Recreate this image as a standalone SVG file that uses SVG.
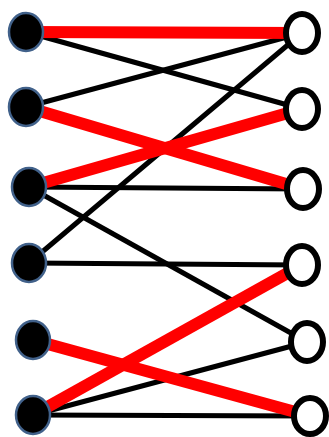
<svg xmlns="http://www.w3.org/2000/svg" width="329" height="437" viewBox="0 0 329 437">
<style>
.red{stroke:#ff0000;stroke-width:12;fill:none}
.blk{stroke:#000000;stroke-width:5;fill:none}
.ln{fill:#000000;stroke:#41618a;stroke-width:2.5}
.rn{fill:#ffffff;stroke:#000000;stroke-width:6}
</style>
<rect width="329" height="437" fill="#ffffff"/>
<g id="connectors">
<line class="blk" x1="26" y1="32" x2="302" y2="109"/>
<line class="blk" x1="26" y1="107" x2="302" y2="33"/>
<line class="blk" x1="29" y1="187" x2="303" y2="189"/>
<line class="blk" x1="29" y1="187" x2="307" y2="342"/>
<line class="blk" x1="29" y1="263" x2="302" y2="33"/>
<line class="blk" x1="29" y1="263" x2="302" y2="265"/>
<line class="blk" x1="33" y1="415" x2="307" y2="342"/>
<line class="blk" x1="33" y1="415" x2="310" y2="416"/>
<line class="red" x1="26" y1="32" x2="302" y2="33"/>
<line class="red" x1="26" y1="107" x2="303" y2="189"/>
<line class="red" x1="29" y1="187" x2="302" y2="109"/>
<line class="red" x1="33" y1="415" x2="302" y2="265"/>
<line class="red" x1="33" y1="340" x2="310" y2="416"/>
</g>
<g id="L1"><ellipse class="ln" cx="26" cy="32" rx="17" ry="19"/></g>
<g id="L2"><ellipse class="ln" cx="26" cy="107" rx="17" ry="19"/></g>
<g id="L3"><ellipse class="ln" cx="29" cy="187" rx="17" ry="19"/></g>
<g id="L4"><ellipse class="ln" cx="29" cy="263" rx="17" ry="19"/></g>
<g id="L5"><ellipse class="ln" cx="33" cy="340" rx="17" ry="19"/></g>
<g id="L6"><ellipse class="ln" cx="33" cy="415" rx="17" ry="19"/></g>
<g id="R1"><ellipse class="rn" cx="302" cy="33" rx="16" ry="19"/></g>
<g id="R2"><ellipse class="rn" cx="302" cy="109" rx="16" ry="19"/></g>
<g id="R3"><ellipse class="rn" cx="303" cy="189" rx="16" ry="19"/></g>
<g id="R4"><ellipse class="rn" cx="302" cy="265" rx="16" ry="19"/></g>
<g id="R5"><ellipse class="rn" cx="307" cy="342" rx="16" ry="19"/></g>
<g id="R6"><ellipse class="rn" cx="310" cy="416" rx="16" ry="18"/></g>
</svg>
